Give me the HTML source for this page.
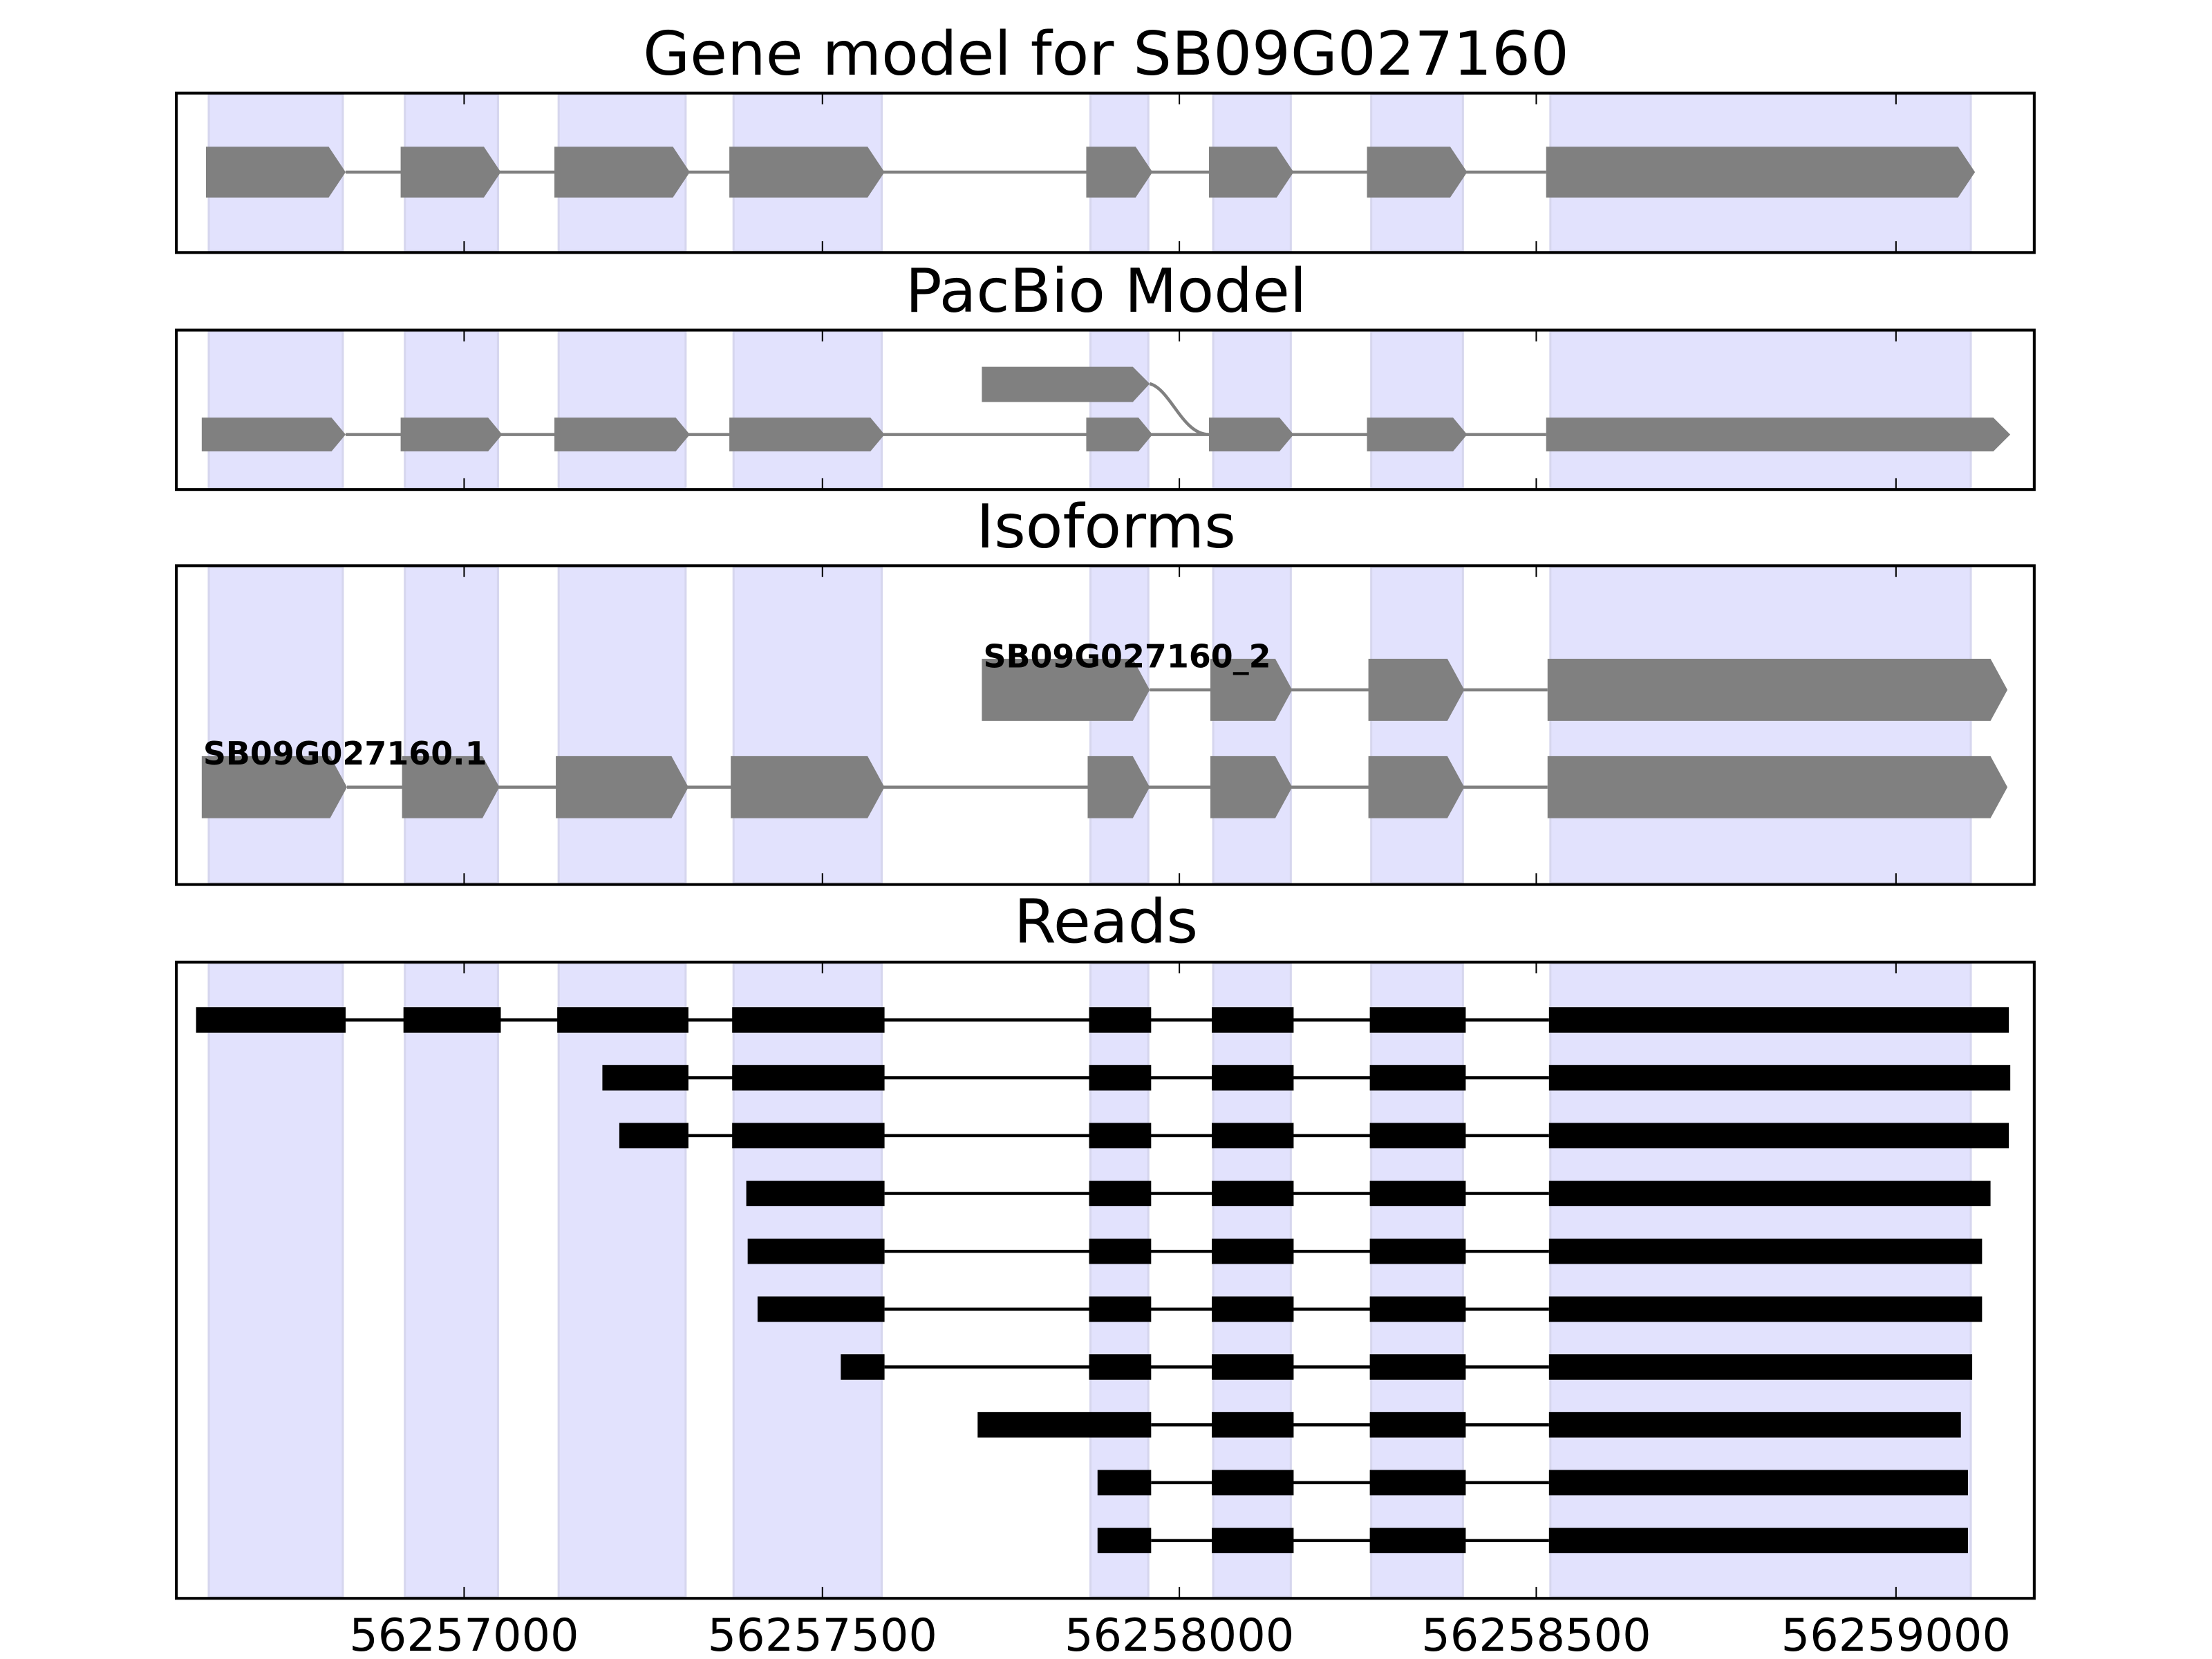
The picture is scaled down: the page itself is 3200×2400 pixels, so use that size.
<!DOCTYPE html>
<html><head><meta charset="utf-8"><style>html,body{margin:0;padding:0;background:#fff}svg{display:block}</style></head>
<body>
<svg width="3200" height="2400" viewBox="0 0 1568 1176" xmlns="http://www.w3.org/2000/svg" font-family="DejaVu Sans, Liberation Sans, sans-serif">
<g font-size="43" text-anchor="middle" fill="#000">
<text x="784" y="53">Gene model for SB09G027160</text>
<text x="784" y="221">PacBio Model</text>
<text x="784" y="388">Isoforms</text>
<text x="784" y="668">Reads</text>
</g>
<g fill="#e2e2fd" stroke="#d6d6ee" stroke-width="1.5">
<rect x="148" y="67" width="95" height="111"/><rect x="287" y="67" width="66" height="111"/><rect x="396" y="67" width="90" height="111"/><rect x="520" y="67" width="105" height="111"/><rect x="773" y="67" width="41" height="111"/><rect x="860" y="67" width="55" height="111"/><rect x="972" y="67" width="65" height="111"/><rect x="1099" y="67" width="298" height="111"/>
<rect x="148" y="235" width="95" height="111"/><rect x="287" y="235" width="66" height="111"/><rect x="396" y="235" width="90" height="111"/><rect x="520" y="235" width="105" height="111"/><rect x="773" y="235" width="41" height="111"/><rect x="860" y="235" width="55" height="111"/><rect x="972" y="235" width="65" height="111"/><rect x="1099" y="235" width="298" height="111"/>
<rect x="148" y="402" width="95" height="224"/><rect x="287" y="402" width="66" height="224"/><rect x="396" y="402" width="90" height="224"/><rect x="520" y="402" width="105" height="224"/><rect x="773" y="402" width="41" height="224"/><rect x="860" y="402" width="55" height="224"/><rect x="972" y="402" width="65" height="224"/><rect x="1099" y="402" width="298" height="224"/>
<rect x="148" y="683" width="95" height="449"/><rect x="287" y="683" width="66" height="449"/><rect x="396" y="683" width="90" height="449"/><rect x="520" y="683" width="105" height="449"/><rect x="773" y="683" width="41" height="449"/><rect x="860" y="683" width="55" height="449"/><rect x="972" y="683" width="65" height="449"/><rect x="1099" y="683" width="298" height="449"/>
</g>
<g fill="#808080" stroke="#808080">
<line x1="245" y1="122" x2="1096" y2="122" stroke-width="2.2"/>
<g stroke="none">
<polygon points="146,104 233,104 245,122 233,140 146,140"/>
<polygon points="284,104 343,104 355,122 343,140 284,140"/>
<polygon points="393,104 477,104 489,122 477,140 393,140"/>
<polygon points="517,104 615,104 627,122 615,140 517,140"/>
<polygon points="770,104 805,104 817,122 805,140 770,140"/>
<polygon points="857,104 905,104 917,122 905,140 857,140"/>
<polygon points="969,104 1028,104 1040,122 1028,140 969,140"/>
<polygon points="1096,104 1388,104 1400,122 1388,140 1096,140"/>
</g>
</g>
<g fill="#808080" stroke="#808080">
<line x1="245" y1="308" x2="1096" y2="308" stroke-width="2.2"/>
<path d="M815,272 C830,276 838,308 857,308" fill="none" stroke-width="2.2"/>
<g stroke="none">
<polygon points="696,260 803,260 815,272 803,285 696,285"/>
<polygon points="143,296 235,296 245,308 235,320 143,320"/>
<polygon points="284,296 346,296 356,308 346,320 284,320"/>
<polygon points="393,296 479,296 489,308 479,320 393,320"/>
<polygon points="517,296 617,296 627,308 617,320 517,320"/>
<polygon points="770,296 807,296 817,308 807,320 770,320"/>
<polygon points="857,296 907,296 917,308 907,320 857,320"/>
<polygon points="969,296 1030,296 1040,308 1030,320 969,320"/>
<polygon points="1096,296 1413,296 1425,308 1413,320 1096,320"/>
</g>
</g>
<g fill="#808080" stroke="#808080">
<line x1="815" y1="489" x2="1097" y2="489" stroke-width="2.2"/>
<line x1="246" y1="558" x2="1097" y2="558" stroke-width="2.2"/>
<g stroke="none">
<polygon points="696,467 803,467 815,489 803,511 696,511"/>
<polygon points="858,467 904,467 916,489 904,511 858,511"/>
<polygon points="970,467 1026,467 1038,489 1026,511 970,511"/>
<polygon points="1097,467 1411,467 1423,489 1411,511 1097,511"/>
<polygon points="143,536 234,536 246,558 234,580 143,580"/>
<polygon points="285,536 342,536 354,558 342,580 285,580"/>
<polygon points="394,536 476,536 488,558 476,580 394,580"/>
<polygon points="518,536 615,536 627,558 615,580 518,580"/>
<polygon points="771,536 803,536 815,558 803,580 771,580"/>
<polygon points="858,536 904,536 916,558 904,580 858,580"/>
<polygon points="970,536 1026,536 1038,558 1026,580 970,580"/>
<polygon points="1097,536 1411,536 1423,558 1411,580 1097,580"/>
</g>
</g>
<g font-size="22.5" font-weight="bold" fill="#000">
<text x="697" y="473">SB09G027160_2</text>
<text x="144" y="542">SB09G027160.1</text>
</g>
<g stroke="#000" stroke-width="2.2">
<line x1="245" y1="723" x2="1098" y2="723"/>
<line x1="488" y1="764" x2="1098" y2="764"/>
<line x1="488" y1="805" x2="1098" y2="805"/>
<line x1="627" y1="846" x2="1098" y2="846"/>
<line x1="627" y1="887" x2="1098" y2="887"/>
<line x1="627" y1="928" x2="1098" y2="928"/>
<line x1="627" y1="969" x2="1098" y2="969"/>
<line x1="816" y1="1010" x2="1098" y2="1010"/>
<line x1="816" y1="1051" x2="1098" y2="1051"/>
<line x1="816" y1="1092" x2="1098" y2="1092"/>
</g>
<g fill="#000">
<rect x="139" y="714" width="106" height="18"/><rect x="286" y="714" width="69" height="18"/><rect x="395" y="714" width="93" height="18"/><rect x="519" y="714" width="108" height="18"/><rect x="772" y="714" width="44" height="18"/><rect x="859" y="714" width="58" height="18"/><rect x="971" y="714" width="68" height="18"/><rect x="1098" y="714" width="326" height="18"/>
<rect x="427" y="755" width="61" height="18"/><rect x="519" y="755" width="108" height="18"/><rect x="772" y="755" width="44" height="18"/><rect x="859" y="755" width="58" height="18"/><rect x="971" y="755" width="68" height="18"/><rect x="1098" y="755" width="327" height="18"/>
<rect x="439" y="796" width="49" height="18"/><rect x="519" y="796" width="108" height="18"/><rect x="772" y="796" width="44" height="18"/><rect x="859" y="796" width="58" height="18"/><rect x="971" y="796" width="68" height="18"/><rect x="1098" y="796" width="326" height="18"/>
<rect x="529" y="837" width="98" height="18"/><rect x="772" y="837" width="44" height="18"/><rect x="859" y="837" width="58" height="18"/><rect x="971" y="837" width="68" height="18"/><rect x="1098" y="837" width="313" height="18"/>
<rect x="530" y="878" width="97" height="18"/><rect x="772" y="878" width="44" height="18"/><rect x="859" y="878" width="58" height="18"/><rect x="971" y="878" width="68" height="18"/><rect x="1098" y="878" width="307" height="18"/>
<rect x="537" y="919" width="90" height="18"/><rect x="772" y="919" width="44" height="18"/><rect x="859" y="919" width="58" height="18"/><rect x="971" y="919" width="68" height="18"/><rect x="1098" y="919" width="307" height="18"/>
<rect x="596" y="960" width="31" height="18"/><rect x="772" y="960" width="44" height="18"/><rect x="859" y="960" width="58" height="18"/><rect x="971" y="960" width="68" height="18"/><rect x="1098" y="960" width="300" height="18"/>
<rect x="693" y="1001" width="123" height="18"/><rect x="859" y="1001" width="58" height="18"/><rect x="971" y="1001" width="68" height="18"/><rect x="1098" y="1001" width="292" height="18"/>
<rect x="778" y="1042" width="38" height="18"/><rect x="859" y="1042" width="58" height="18"/><rect x="971" y="1042" width="68" height="18"/><rect x="1098" y="1042" width="297" height="18"/>
<rect x="778" y="1083" width="38" height="18"/><rect x="859" y="1083" width="58" height="18"/><rect x="971" y="1083" width="68" height="18"/><rect x="1098" y="1083" width="297" height="18"/>
</g>
<g fill="none" stroke="#000" stroke-width="2">
<rect x="125" y="66" width="1317" height="113"/>
<rect x="125" y="234" width="1317" height="113"/>
<rect x="125" y="401" width="1317" height="226"/>
<rect x="125" y="682" width="1317" height="451"/>
</g>
<g stroke="#000" stroke-width="1">
<path d="M329,66v8M583,66v8M836,66v8M1089,66v8M1344,66v8M329,179v-8M583,179v-8M836,179v-8M1089,179v-8M1344,179v-8"/>
<path d="M329,234v8M583,234v8M836,234v8M1089,234v8M1344,234v8M329,347v-8M583,347v-8M836,347v-8M1089,347v-8M1344,347v-8"/>
<path d="M329,401v8M583,401v8M836,401v8M1089,401v8M1344,401v8M329,627v-8M583,627v-8M836,627v-8M1089,627v-8M1344,627v-8"/>
<path d="M329,682v8M583,682v8M836,682v8M1089,682v8M1344,682v8M329,1133v-8M583,1133v-8M836,1133v-8M1089,1133v-8M1344,1133v-8"/>
</g>
<g font-size="32" text-anchor="middle" fill="#000">
<text x="329" y="1170">56257000</text>
<text x="583" y="1170">56257500</text>
<text x="836" y="1170">56258000</text>
<text x="1089" y="1170">56258500</text>
<text x="1344" y="1170">56259000</text>
</g>
</svg>
</body></html>
